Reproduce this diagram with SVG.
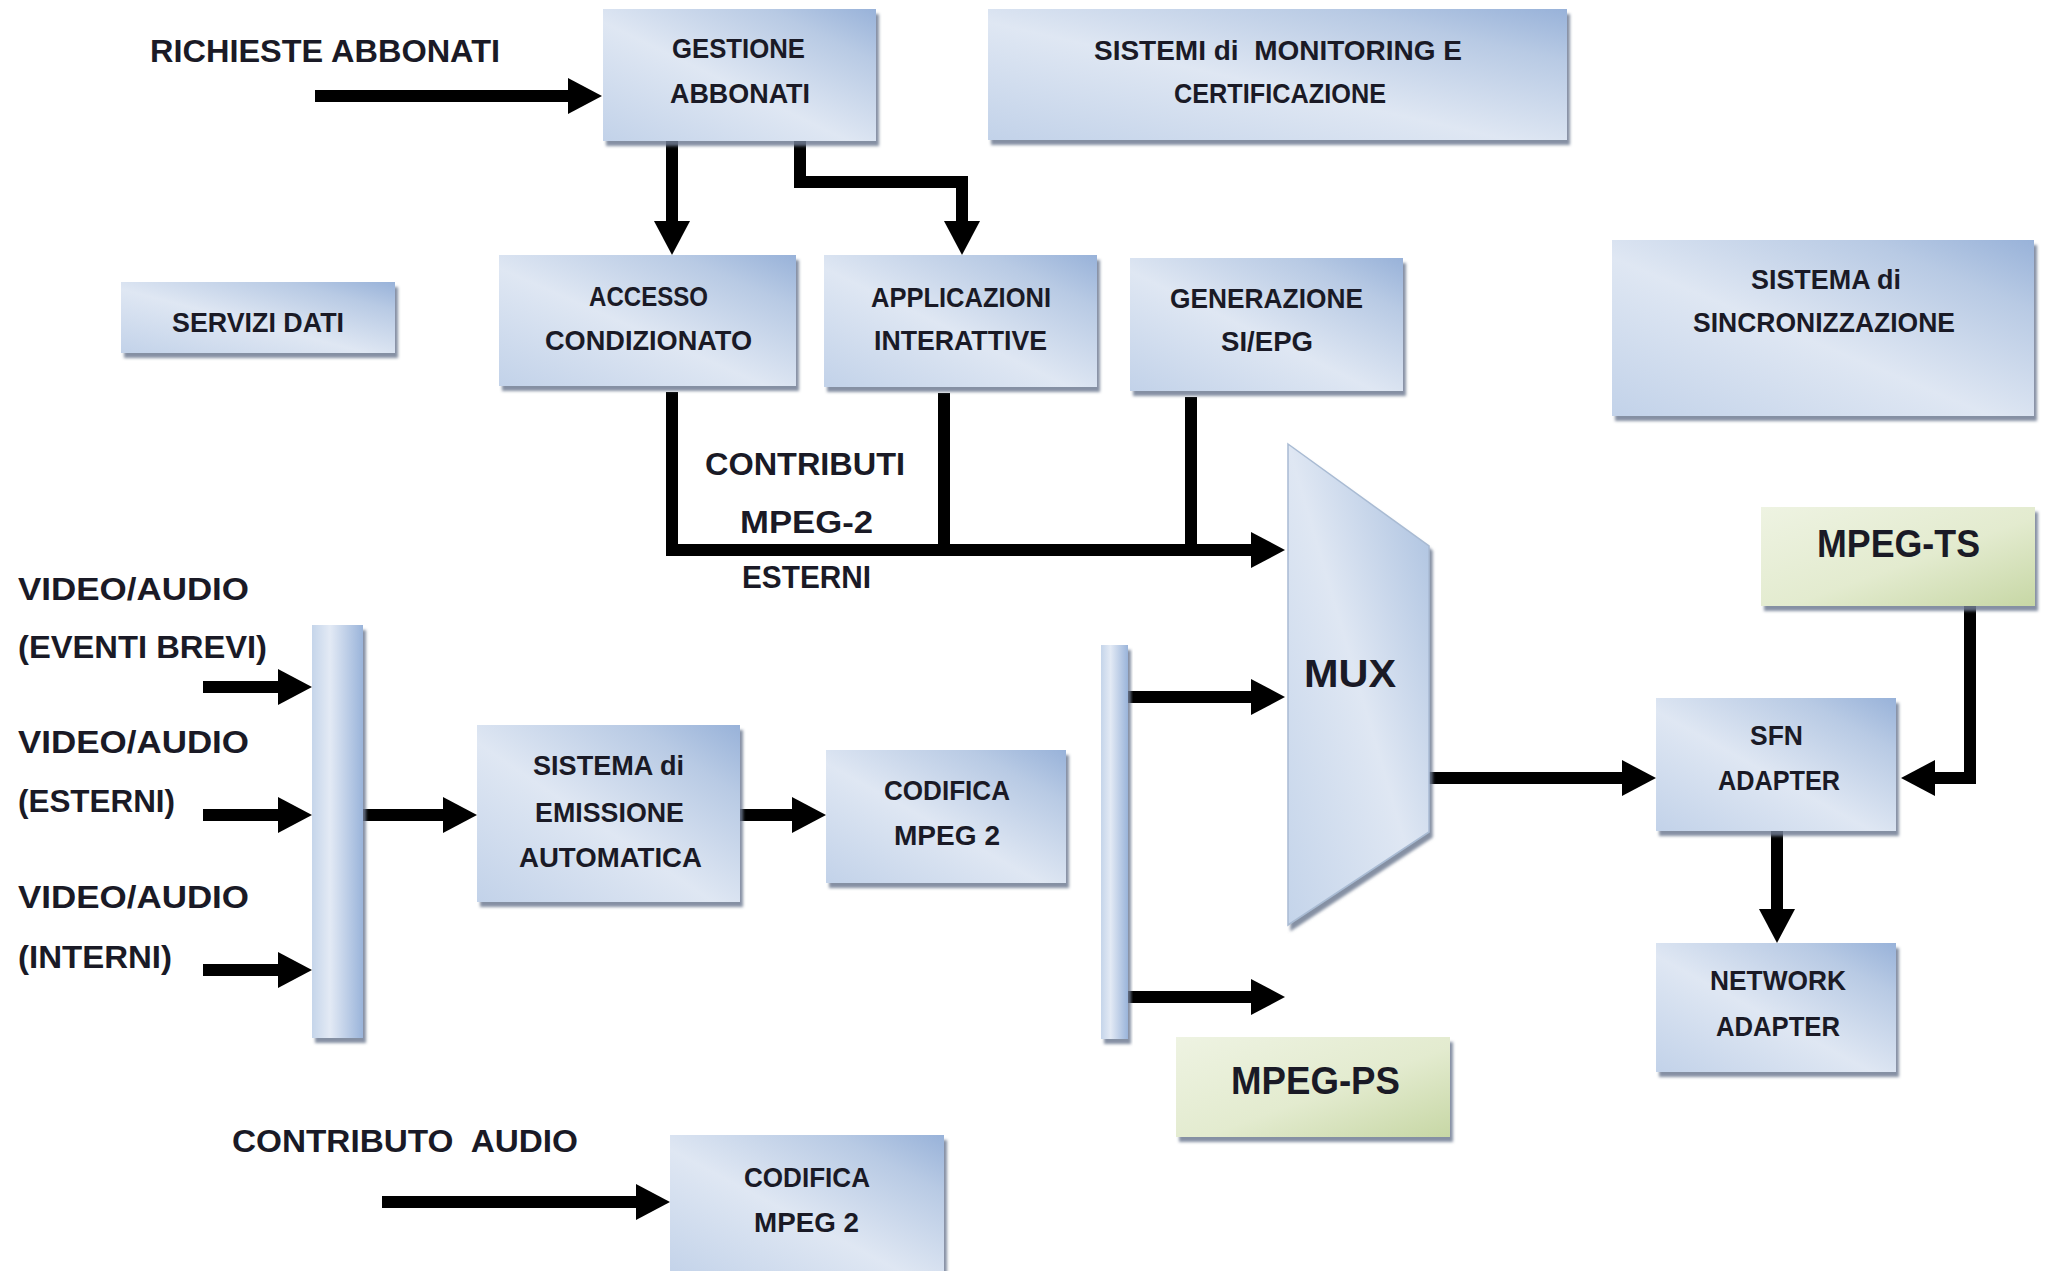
<svg xmlns="http://www.w3.org/2000/svg" width="2045" height="1271" viewBox="0 0 2045 1271">
  <style>
    .box { fill: url(#blueFill); filter: url(#shadow); }
    .bar { fill: url(#barFill); filter: url(#shadow); }
    .green { fill: url(#greenFill); filter: url(#shadow); }
    .mux { fill: url(#muxFill); stroke: #a9bbd3; stroke-width: 1.5; filter: url(#shadow); }
    text { font-family: "Liberation Sans", Arial, sans-serif; font-weight: bold; fill: #1a1a26; }
    .lbl { font-size: 28.5px; }
    .free { font-size: 32px; }
    .big { font-size: 38px; }
    .wire { fill: none; stroke: #000; stroke-width: 12; stroke-linejoin: miter; }
    .arrow { marker-end: url(#head); }
  </style>
  <defs>
    <linearGradient id="blueFill" x1="0" y1="1" x2="1" y2="0">
      <stop offset="0" stop-color="#c2d2e9"/>
      <stop offset="0.45" stop-color="#dfe7f3"/>
      <stop offset="0.8" stop-color="#b8cae4"/>
      <stop offset="1" stop-color="#98b2d9"/>
    </linearGradient>
    <linearGradient id="barFill" x1="0" y1="0" x2="1" y2="0">
      <stop offset="0" stop-color="#c5d5ea"/>
      <stop offset="0.35" stop-color="#e3eaf5"/>
      <stop offset="1" stop-color="#9ab4da"/>
    </linearGradient>
    <linearGradient id="muxFill" x1="0" y1="1" x2="1" y2="0">
      <stop offset="0" stop-color="#c4d4ea"/>
      <stop offset="0.5" stop-color="#dfe7f3"/>
      <stop offset="1" stop-color="#a7bede"/>
    </linearGradient>
    <linearGradient id="greenFill" x1="0" y1="0" x2="1" y2="1">
      <stop offset="0" stop-color="#eef3e2"/>
      <stop offset="0.55" stop-color="#e3ebcf"/>
      <stop offset="1" stop-color="#c7d7a5"/>
    </linearGradient>
    <filter id="shadow" x="-10%" y="-10%" width="125%" height="125%">
      <feDropShadow dx="3" dy="5" stdDeviation="1.5" flood-color="#6f7d93" flood-opacity="0.85"/>
    </filter>
    <marker id="head" viewBox="0 -18 34 36" refX="1" refY="0" markerWidth="34" markerHeight="36" markerUnits="userSpaceOnUse" orient="auto">
      <path d="M0,-18 L34,0 L0,18 Z" fill="#000"/>
    </marker>
  </defs>

  <!-- free labels -->
  <g id="labels">
    <text class="free" x="150" y="62" textLength="350" lengthAdjust="spacingAndGlyphs">RICHIESTE ABBONATI</text>
    <text class="free" x="705" y="475" textLength="200" lengthAdjust="spacingAndGlyphs">CONTRIBUTI</text>
    <text class="free" x="740" y="533" textLength="133" lengthAdjust="spacingAndGlyphs">MPEG-2</text>
    <text class="free" x="742" y="588" textLength="129" lengthAdjust="spacingAndGlyphs">ESTERNI</text>
    <text class="free" x="18" y="600" textLength="231" lengthAdjust="spacingAndGlyphs">VIDEO/AUDIO</text>
    <text class="free" x="18" y="658" textLength="249" lengthAdjust="spacingAndGlyphs">(EVENTI BREVI)</text>
    <text class="free" x="18" y="753" textLength="231" lengthAdjust="spacingAndGlyphs">VIDEO/AUDIO</text>
    <text class="free" x="18" y="812" textLength="157" lengthAdjust="spacingAndGlyphs">(ESTERNI)</text>
    <text class="free" x="18" y="908" textLength="231" lengthAdjust="spacingAndGlyphs">VIDEO/AUDIO</text>
    <text class="free" x="18" y="968" textLength="154" lengthAdjust="spacingAndGlyphs">(INTERNI)</text>
    <text class="free" x="232" y="1152" textLength="346" lengthAdjust="spacingAndGlyphs" xml:space="preserve">CONTRIBUTO  AUDIO</text>
  </g>

  <!-- connectors -->
  <g id="connectors">
    <path class="wire arrow" d="M315,96 H569"/>
    <path class="wire arrow" d="M672,141 V222"/>
    <path class="wire arrow" d="M800,141 V182 H962 V222"/>
    <path class="wire" d="M944,393 V550"/>
    <path class="wire" d="M1191,397 V550"/>
    <path class="wire arrow" d="M672,392 V550 H1252"/>
    <path class="wire arrow" d="M203,687 H279"/>
    <path class="wire arrow" d="M203,815 H279"/>
    <path class="wire arrow" d="M203,970 H279"/>
    <path class="wire arrow" d="M363,815 H444"/>
    <path class="wire arrow" d="M740,815 H793"/>
    <path class="wire arrow" d="M1128,697 H1252"/>
    <path class="wire arrow" d="M1128,997 H1252"/>
    <path class="wire arrow" d="M1429,778 H1623"/>
    <path class="wire arrow" d="M1970,606 V778 H1934"/>
    <path class="wire arrow" d="M1777,831 V910"/>
    <path class="wire arrow" d="M382,1202 H637"/>
  </g>

  <g id="gestione-abbonati">
    <rect class="box" x="603" y="9" width="273" height="132"/>
    <text class="lbl" x="672" y="58" textLength="133" lengthAdjust="spacingAndGlyphs">GESTIONE</text>
    <text class="lbl" x="670" y="103" textLength="140" lengthAdjust="spacingAndGlyphs">ABBONATI</text>
  </g>

  <g id="sistemi-monitoring">
    <rect class="box" x="988" y="9" width="579" height="131"/>
    <text class="lbl" x="1094" y="60" textLength="368" lengthAdjust="spacingAndGlyphs" xml:space="preserve">SISTEMI di  MONITORING E</text>
    <text class="lbl" x="1174" y="103" textLength="212" lengthAdjust="spacingAndGlyphs">CERTIFICAZIONE</text>
  </g>

  <g id="servizi-dati">
    <rect class="box" x="121" y="282" width="274" height="71"/>
    <text class="lbl" x="172" y="332" textLength="172" lengthAdjust="spacingAndGlyphs">SERVIZI DATI</text>
  </g>

  <g id="accesso-condizionato">
    <rect class="box" x="499" y="255" width="297" height="131"/>
    <text class="lbl" x="589" y="306" textLength="119" lengthAdjust="spacingAndGlyphs">ACCESSO</text>
    <text class="lbl" x="545" y="350" textLength="207" lengthAdjust="spacingAndGlyphs">CONDIZIONATO</text>
  </g>

  <g id="applicazioni-interattive">
    <rect class="box" x="824" y="255" width="273" height="132"/>
    <text class="lbl" x="871" y="307" textLength="180" lengthAdjust="spacingAndGlyphs">APPLICAZIONI</text>
    <text class="lbl" x="874" y="350" textLength="173" lengthAdjust="spacingAndGlyphs">INTERATTIVE</text>
  </g>

  <g id="generazione-si-epg">
    <rect class="box" x="1130" y="258" width="273" height="133"/>
    <text class="lbl" x="1170" y="308" textLength="193" lengthAdjust="spacingAndGlyphs">GENERAZIONE</text>
    <text class="lbl" x="1221" y="351" textLength="92" lengthAdjust="spacingAndGlyphs">SI/EPG</text>
  </g>

  <g id="sistema-sincronizzazione">
    <rect class="box" x="1612" y="240" width="422" height="176"/>
    <text class="lbl" x="1751" y="289" textLength="150" lengthAdjust="spacingAndGlyphs">SISTEMA di</text>
    <text class="lbl" x="1693" y="332" textLength="262" lengthAdjust="spacingAndGlyphs">SINCRONIZZAZIONE</text>
  </g>

  <g id="ingressi-bus">
    <rect class="bar" x="312" y="625" width="51" height="413"/>
  </g>

  <g id="sistema-emissione">
    <rect class="box" x="477" y="725" width="263" height="177"/>
    <text class="lbl" x="533" y="775" textLength="151" lengthAdjust="spacingAndGlyphs">SISTEMA di</text>
    <text class="lbl" x="535" y="822" textLength="149" lengthAdjust="spacingAndGlyphs">EMISSIONE</text>
    <text class="lbl" x="519" y="867" textLength="183" lengthAdjust="spacingAndGlyphs">AUTOMATICA</text>
  </g>

  <g id="codifica-video">
    <rect class="box" x="826" y="750" width="240" height="133"/>
    <text class="lbl" x="884" y="800" textLength="126" lengthAdjust="spacingAndGlyphs">CODIFICA</text>
    <text class="lbl" x="894" y="845" textLength="106" lengthAdjust="spacingAndGlyphs">MPEG 2</text>
  </g>

  <g id="uscite-bus">
    <rect class="bar" x="1101" y="645" width="27" height="394"/>
  </g>

  <g id="mux">
    <polygon class="mux" points="1288,444 1429,546 1429,832 1288,925"/>
    <text class="big" x="1304" y="687" textLength="92" lengthAdjust="spacingAndGlyphs">MUX</text>
  </g>

  <g id="mpeg-ts">
    <rect class="green" x="1761" y="507" width="274" height="99"/>
    <text class="big" x="1817" y="557" textLength="163" lengthAdjust="spacingAndGlyphs">MPEG-TS</text>
  </g>

  <g id="sfn-adapter">
    <rect class="box" x="1656" y="698" width="240" height="133"/>
    <text class="lbl" x="1750" y="745" font-size="25" textLength="53" lengthAdjust="spacingAndGlyphs">SFN</text>
    <text class="lbl" x="1718" y="790" textLength="122" lengthAdjust="spacingAndGlyphs">ADAPTER</text>
  </g>

  <g id="network-adapter">
    <rect class="box" x="1656" y="943" width="240" height="129"/>
    <text class="lbl" x="1710" y="990" textLength="136" lengthAdjust="spacingAndGlyphs">NETWORK</text>
    <text class="lbl" x="1716" y="1036" textLength="124" lengthAdjust="spacingAndGlyphs">ADAPTER</text>
  </g>

  <g id="mpeg-ps">
    <rect class="green" x="1176" y="1037" width="274" height="100"/>
    <text class="big" x="1231" y="1094" textLength="169" lengthAdjust="spacingAndGlyphs">MPEG-PS</text>
  </g>

  <g id="codifica-audio">
    <rect class="box" x="670" y="1135" width="274" height="145"/>
    <text class="lbl" x="744" y="1187" textLength="126" lengthAdjust="spacingAndGlyphs">CODIFICA</text>
    <text class="lbl" x="754" y="1232" textLength="105" lengthAdjust="spacingAndGlyphs">MPEG 2</text>
  </g>
</svg>
